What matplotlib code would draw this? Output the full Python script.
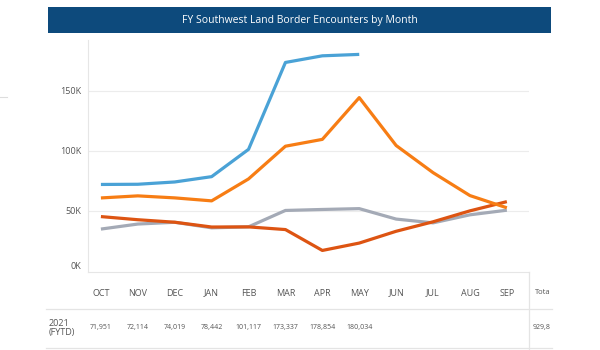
import matplotlib
matplotlib.use("Agg")
import matplotlib.pyplot as plt
from matplotlib.lines import Line2D
from matplotlib.patches import Rectangle

plt.rcParams["font.family"] = ["Open Sans", "DejaVu Sans"]

# Data
months = ["OCT", "NOV", "DEC", "JAN", "FEB", "MAR", "APR", "MAY", "JUN", "JUL", "AUG", "SEP"]
fy2018 = [34869, 39051, 40519, 35905, 36740, 50347, 51168, 51862, 43180, 40036, 46719, 50568]
fy2020 = [45250, 42643, 40565, 36585, 36687, 34460, 17106, 23237, 33049, 40929, 50014, 57674]
fy2019 = [60745, 62469, 60794, 58317, 76545, 103731, 109415, 144116, 104311, 81777, 62707, 52546]
fy2021 = [71951, 72114, 74019, 78442, 101117, 173337, 178854, 180034]
yticks = [0, 50000, 100000, 150000]
ytick_labels = ["0K", "50K", "100K", "150K"]
row_label = "2021\n(FYTD)"
total_label = "929,8"

W, H = 600, 350
fig = plt.figure(figsize=(6, 3.5), dpi=100)
fig.patch.set_facecolor("white")


def fx(px):
    return px / W


def fy(py):
    return 1 - py / H


# Title banner
fig.patches.append(Rectangle((fx(48), fy(33)), fx(551) - fx(48), fy(7) - fy(33),
                             transform=fig.transFigure, facecolor="#0d4a7c",
                             edgecolor="none", zorder=0))
fig.text(fx(300), fy(20), "FY Southwest Land Border Encounters by Month",
         color="white", fontsize=7.5, ha="center", va="center")

# Main chart axes
ax_left, ax_right, ax_top, ax_bottom = 88, 529, 40, 272
ax = fig.add_axes([fx(ax_left), fy(ax_bottom), fx(ax_right) - fx(ax_left),
                   fy(ax_top) - fy(ax_bottom)])
x = list(range(len(months)))
lw = 2.3
ax.plot(x, fy2018, color="#a4aab6", lw=lw, solid_capstyle="butt", zorder=3)
ax.plot(x, fy2020, color="#dd5412", lw=lw, solid_capstyle="butt", zorder=4)
ax.plot(x, fy2019, color="#f77d14", lw=lw, solid_capstyle="butt", zorder=5)
ax.plot(x[:len(fy2021)], fy2021, color="#4aa2d6", lw=lw, solid_capstyle="butt", zorder=6)

ax.set_xlim(-0.35, 11.6)
ax.set_ylim(-800, 192000)
ax.set_yticks(yticks)
ax.set_yticklabels(ytick_labels)
ax.set_xticks([])
ax.tick_params(axis="y", length=0, labelsize=6.5, labelcolor="#555555", pad=5)
# bottom label sits a little above the baseline, like the original
ax.yaxis.get_major_ticks()[0].label1.set_verticalalignment("bottom")
for yv in yticks[1:]:
    ax.axhline(yv, color="#ececec", lw=0.8, zorder=1)
for side in ["top", "right"]:
    ax.spines[side].set_visible(False)
ax.spines["left"].set_color("#e6e6e6")
ax.spines["left"].set_linewidth(0.8)
ax.spines["bottom"].set_color("#e6e6e6")
ax.spines["bottom"].set_linewidth(0.8)

# Month labels and table
for i, m in enumerate(months):
    px = ax.transData.transform((i, 0))[0]
    fig.text(px / (fig.dpi * 6), fy(293), m, fontsize=6.5, color="#555555",
             ha="center", va="center")
for i, v in enumerate(fy2021):
    px = ax.transData.transform((i, 0))[0]
    fig.text(px / (fig.dpi * 6), fy(328), f"{v:,}", fontsize=5, color="#555555",
             ha="center", va="center")
fig.text(fx(535), fy(293), "Tota", fontsize=5.5, color="#555555", ha="left", va="center")
fig.text(fx(533), fy(328), total_label, fontsize=5, color="#555555", ha="left", va="center")
fig.text(fx(49), fy(328), row_label, fontsize=6.5, color="#555555", ha="left",
         va="center", linespacing=1.1)

line_kw = dict(transform=fig.transFigure, color="#e4e4e4", lw=0.9)
fig.lines.append(Line2D([fx(46), fx(552)], [fy(309), fy(309)], **line_kw))
fig.lines.append(Line2D([fx(46), fx(552)], [fy(348), fy(348)], **line_kw))
fig.lines.append(Line2D([fx(529), fx(529)], [fy(272), fy(350)], **line_kw))
fig.lines.append(Line2D([fx(0), fx(7)], [fy(97), fy(97)], transform=fig.transFigure,
                        color="#dddddd", lw=0.8))

fig.savefig("out.png", dpi=100)
